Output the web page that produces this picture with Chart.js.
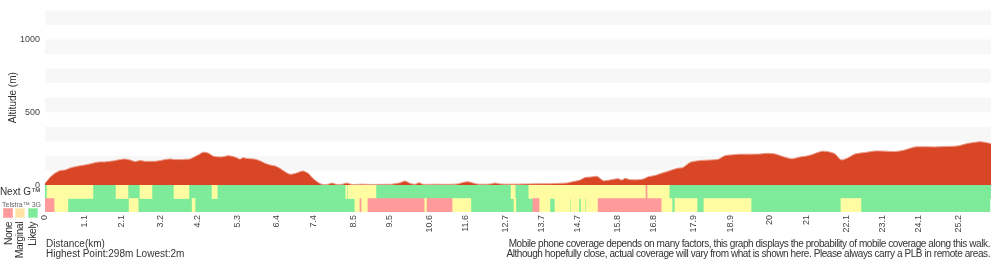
<!DOCTYPE html>
<html>
<head>
<meta charset="utf-8">
<script src="https://cdn.jsdelivr.net/npm/chart.js@4.4.1/dist/chart.umd.min.js"></script>
<style>
    body { margin: 0; background: #fff; font-family: "Liberation Sans", Arial, sans-serif; }
    #wrap { position: relative; width: 1000px; height: 260px; overflow: hidden; }
    #myChart { position: absolute; left: 0; top: 0; }
    .note { position: absolute; font-size: 10px; line-height: 10px; color: #333; white-space: nowrap; }
    .sq { position: absolute; top: 208px; width: 8px; height: 8px; border: 1px solid; }
    .lvl { position: absolute; top: 222px; font-size: 10.5px; line-height: 9px; color: #333; letter-spacing: -0.5px;
           writing-mode: vertical-rl; transform: rotate(180deg); white-space: nowrap; }
</style>
</head>
<body>
<div id="wrap">
    <canvas id="myChart" width="1000" height="260"></canvas>
    <div class="sq" style="left:3px; background:#ff9a9a; border-color:#ffb3b3;"></div>
    <div class="sq" style="left:15px; background:#ffe2a4; border-color:#fff0c0;"></div>
    <div class="sq" style="left:28px; background:#7deb99; border-color:#a8f2bb;"></div>
    <div class="lvl" style="left:4px;">None</div>
    <div class="lvl" style="left:15px;">Marginal</div>
    <div class="lvl" style="left:28px;">Likely</div>
    <div class="note" style="left:46px; top:239px;">Distance(km)<br>Highest Point:298m Lowest:2m</div>
    <div class="note" style="right:10px; top:239px; text-align:right; letter-spacing:-0.42px;">Mobile phone coverage depends on many factors, this graph displays the probability of mobile coverage along this walk.<br>Although hopefully close, actual coverage will vary from what is shown here. Please always carry a PLB in remote areas.</div>
</div>
<script>
// elevation profile
const distKm = [0, 0.08, 0.14, 0.28, 0.41, 0.55, 0.69, 0.83, 0.97, 1.10, 1.24, 1.38, 1.52, 1.66, 1.79, 1.93,
    2.07, 2.21, 2.35, 2.48, 2.62, 2.76, 2.90, 3.03, 3.17, 3.31, 3.45, 3.59, 3.72, 3.86, 4.00, 4.14, 4.28,
    4.36, 4.50, 4.63, 4.75, 4.88, 5.05, 5.16, 5.27, 5.38, 5.46, 5.60, 5.79, 5.93, 6.07, 6.21, 6.35, 6.48,
    6.62, 6.76, 6.90, 7.04, 7.12, 7.26, 7.39, 7.53, 7.64, 7.78, 7.92, 8.03, 8.19, 8.33, 8.47, 8.75, 9.02,
    9.30, 9.57, 9.79, 9.93, 10.07, 10.21, 10.32, 10.43, 10.76, 11.12, 11.39, 11.53, 11.67, 11.81, 11.95,
    12.28, 12.42, 12.55, 12.83, 13.38, 13.93, 14.21, 14.40, 14.54, 14.76, 14.90, 15.09, 15.23, 15.40,
    15.53, 15.67, 15.81, 15.92, 16.00, 16.14, 16.33, 16.50, 16.64, 16.83, 16.97, 17.19, 17.44, 17.60,
    17.80, 17.99, 18.16, 18.35, 18.57, 18.76, 18.98, 19.17, 19.45, 19.72, 19.92, 20.14, 20.31, 20.47,
    20.61, 20.83, 21.02, 21.19, 21.33, 21.44, 21.60, 21.80, 21.93, 21.99, 22.13, 22.35, 22.63, 22.90,
    23.18, 23.45, 23.67, 23.81, 24.00, 24.28, 24.56, 24.83, 25.19, 25.47, 25.80, 25.93, 26.10];
const altM = [12, 35, 53, 82, 99, 103, 117, 126, 133, 138, 145, 154, 159, 159, 163, 168,
    175, 179, 172, 161, 168, 163, 163, 163, 168, 175, 179, 175, 175, 177, 179, 196, 214,
    226, 220, 200, 194, 193, 202, 198, 190, 178, 188, 182, 178, 167, 150, 138, 131, 115,
    92, 74, 80, 92, 97, 81, 46, 19, 5, 4, 14, 5, 5, 14, 4, 6, 4,
    5, 6, 15, 28, 12, 5, 16, 5, 6, 5, 8, 18, 23, 14, 6,
    7, 14, 8, 6, 8, 9, 12, 14, 22, 34, 52, 56, 60, 30,
    33, 39, 44, 34, 46, 37, 36, 41, 57, 66, 78, 95, 115, 120,
    156, 166, 170, 172, 177, 202, 208, 212, 212, 213, 218, 214, 200, 188,
    180, 193, 200, 212, 225, 233, 230, 214, 178, 172, 184, 214, 224, 234,
    233, 230, 238, 248, 262, 263, 262, 265, 269, 287, 298, 294, 285];

const xTicks = [0, 1.1, 2.1, 3.2, 4.2, 5.3, 6.4, 7.4, 8.5, 9.5, 10.6, 11.6, 12.7, 13.7, 14.7,
    15.8, 16.8, 17.9, 18.9, 20, 21, 22.1, 23.1, 24.1, 25.2];

// coverage rows: run boundaries (km) and level of each run (N none, M marginal, L likely)
const rowNames = ["Next G\u2122", "Telstra\u2122 3G"];
const nextGEdges = [0, 0.055, 1.32, 1.96, 2.29, 2.62, 2.95, 3.56, 3.97, 4.61, 4.75, 8.30, 8.33, 8.36,
    9.13, 12.86, 12.97, 13.35, 16.58, 16.61, 17.22, 26.1];
const nextGLevels = "LMLMLMLMLMLMLMLMLMNML";
const threeGEdges = [0, 0.25, 0.63, 2.32, 2.57, 4.06, 4.14, 8.55, 8.69, 8.72, 8.91, 10.46, 10.54,
    11.23, 11.75, 12.94, 12.99, 13.46, 13.63, 13.93, 14.07, 14.48, 14.51, 14.73, 14.79, 14.90, 14.93,
    15.26, 17.00, 17.30, 17.38, 17.99, 18.18, 19.48, 21.96, 22.51, 26.07];
const threeGLevels = "NMLMLMLMNMNMNMLMLNMLMLMLMLMNMLMLMLML";

const levelNames = {N: "None", M: "Marginal", L: "Likely"};
const levelColors = {N: "#ff9a9a", M: "#fffca1", L: "#7deb99"};

function runsFor(level) {
    var out = [];
    [[nextGEdges, nextGLevels, rowNames[0]], [threeGEdges, threeGLevels, rowNames[1]]].forEach((row) => {
        var edges = row[0], levels = row[1];
        for (let i = 0; i < levels.length; i++) {
            if (levels[i] === level) {
                out.push({x: [edges[i], edges[i + 1]], y: row[2]});
            }
        }
    });
    return out;
}

// light grey bands every other 100 m
const bandsPlugin = {
    id: "bands",
    beforeDatasetsDraw(chart) {
        var ctx = chart.ctx;
        var y = chart.scales.y;
        var area = chart.chartArea;
        ctx.save();
        ctx.fillStyle = "#f7f7f7";
        for (let v = 100; v < 1200; v += 200) {
            var top = y.getPixelForValue(v + 100);
            var bottom = y.getPixelForValue(v);
            ctx.fillRect(area.left, top, area.right - area.left, bottom - top);
        }
        ctx.restore();
    }
};

var datasets = [{
    type: "line",
    data: distKm.map((d, i) => ({x: d, y: altM[i]})),
    xAxisID: "x",
    yAxisID: "y",
    fill: "origin",
    backgroundColor: "#d94626",
    borderColor: "#eb9c8a",
    borderWidth: 1,
    pointRadius: 0,
    tension: 0.2,
}];
["N", "M", "L"].forEach((lv) => {
    datasets.push({
        type: "bar",
        label: levelNames[lv],
        indexAxis: "y",
        xAxisID: "x",
        yAxisID: "y2",
        data: runsFor(lv),
        backgroundColor: levelColors[lv],
        borderWidth: 0,
        grouped: false,
        barPercentage: 1,
        categoryPercentage: 1,
    });
});

var tickFont = {family: "Liberation Sans", size: 9};

new Chart(document.getElementById("myChart"), {
    type: "line",
    data: {datasets: datasets},
    plugins: [bandsPlugin],
    options: {
        responsive: false,
        animation: false,
        layout: {padding: {top: 4, right: 9, bottom: 0, left: 0}},
        plugins: {
            legend: {display: false},
            tooltip: {enabled: false},
        },
        scales: {
            x: {
                type: "linear",
                min: 0,
                max: 26.1,
                grid: {display: false, drawTicks: false},
                border: {display: false},
                afterBuildTicks: (axis) => { axis.ticks = xTicks.map(v => ({value: v})); },
                afterFit: (axis) => { axis.height = 48; },
                ticks: {
                    autoSkip: false,
                    minRotation: 90,
                    maxRotation: 90,
                    padding: 3,
                    color: "#444",
                    font: tickFont,
                },
            },
            // coverage rows listed first: the layout stacks them below the altitude scale
            y2: {
                type: "category",
                labels: rowNames,
                position: "left",
                stack: "profile",
                stackWeight: 27,
                offset: true,
                grid: {display: false, drawTicks: false},
                border: {display: false},
                afterFit: (axis) => { axis.width = 45; },
                ticks: {
                    autoSkip: false,
                    padding: 4,
                    color: (c) => (c.index === 0 ? "#333" : "#666"),
                    font: (c) => (c.index === 0 ? {family: "Liberation Sans", size: 10}
                                                 : {family: "Liberation Sans", size: 7}),
                },
            },
            y: {
                type: "linear",
                position: "left",
                stack: "profile",
                stackWeight: 175,
                min: 0,
                max: 1200,
                grid: {display: false, drawTicks: false},
                border: {display: false},
                afterFit: (axis) => { axis.width = 45; },
                title: {
                    display: true,
                    text: "Altitude (m)",
                    color: "#333",
                    font: {family: "Liberation Sans", size: 10},
                    padding: {top: 7, bottom: 0},
                },
                ticks: {
                    stepSize: 100,
                    autoSkip: false,
                    padding: 5,
                    color: "#444",
                    font: tickFont,
                    callback: (v) => (v % 500 === 0 ? v : ""),
                },
            },
        },
    },
});
</script>
</body>
</html>
